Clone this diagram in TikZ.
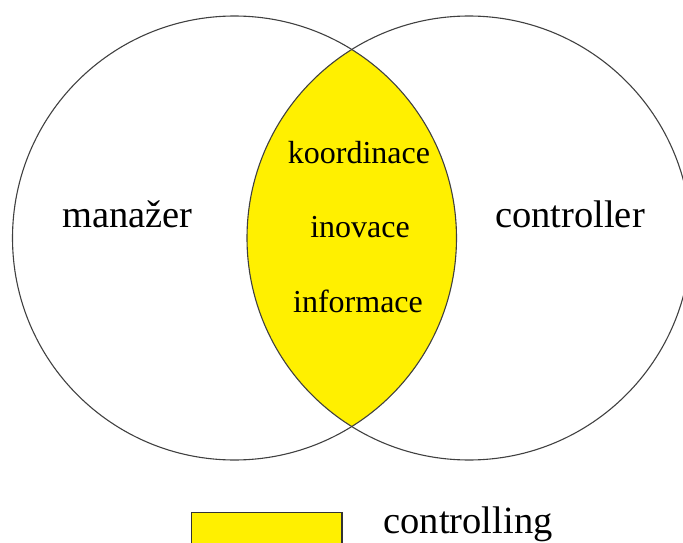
\documentclass[tikz,border=0pt]{standalone}
\usepackage{fontspec}
\setmainfont{Liberation Serif}
\definecolor{lensyellow}{RGB}{255,240,0}
\begin{document}
\begin{tikzpicture}[x=1pt,y=-1pt,
  ring/.style={draw=black!75, line width=1.1pt},
  bigtext/.style={font=\fontsize{38.5}{40}\selectfont, anchor=base, inner sep=0pt},
  lenstext/.style={font=\fontsize{32}{34}\selectfont, anchor=base, inner sep=0pt},
  keybox/.style={fill=lensyellow, draw=black!80, line width=1.1pt}]
\useasboundingbox (0,0) rectangle (683,543);
\coordinate (cm) at (234.5,238);
\coordinate (cc) at (469,238);
% shared area of the two sets
\begin{scope}
  \clip (cm) circle (222);
  \fill[lensyellow] (cc) circle (222);
\end{scope}
\draw[ring] (cm) circle (222);
\draw[ring] (cc) circle (222);
% set labels
\node[bigtext] (manazer) at (127.5,227) {manažer};
\node[bigtext] (controller) at (570,227) {controller};
% shared items
\node[lenstext] (koord) at (359,163) {koordinace};
\node[lenstext] (inov) at (360,237) {inovace};
\node[lenstext] (inform) at (358,312) {informace};
% legend
\draw[keybox] (191.5,512.5) rectangle (342,570);
\node[bigtext] (controlling) at (468,533) {controlling};
\end{tikzpicture}
\end{document}
